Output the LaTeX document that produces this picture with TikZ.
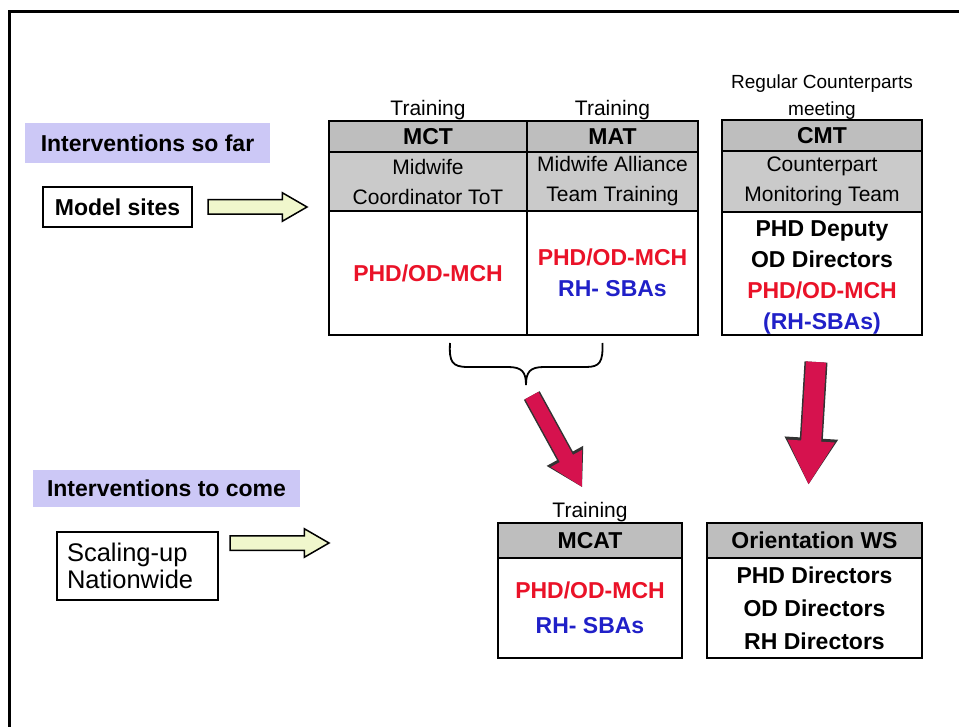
\documentclass[tikz,border=0pt]{standalone}
\usepackage{fontspec}
\setmainfont{Liberation Sans}
\usetikzlibrary{arrows.meta, positioning}
\usetikzlibrary{shapes.arrows}
\usetikzlibrary{calc}
\usepackage{xcolor}
\definecolor{hdrgray}{RGB}{190,190,190}
\definecolor{subgray}{RGB}{202,202,202}
\definecolor{lav}{RGB}{204,200,246}
\definecolor{pale}{RGB}{240,247,204}
\definecolor{crim}{RGB}{214,18,78}
\definecolor{txtred}{RGB}{234,18,40}
\definecolor{txtblue}{RGB}{32,32,200}

\begin{document}
\begin{tikzpicture}[x=1pt,y=-1pt,
    every node/.style={outer sep=0pt},
    cellbox/.style={draw, line width=2.5pt, align=center, inner sep=0pt},
    hdr/.style={cellbox, fill=hdrgray, font=\fontsize{23}{32}\selectfont\bfseries},
    subhdr/.style={cellbox, fill=subgray, font=\fontsize{21}{30}\selectfont},
    body/.style={cellbox, fill=white, font=\fontsize{23}{31}\selectfont\bfseries},
    toplbl/.style={inner sep=1pt, align=center, font=\fontsize{21}{27}\selectfont},
    tag/.style={fill=lav, inner sep=0pt, font=\fontsize{23}{28}\selectfont\bfseries},
    site/.style={draw, line width=1.5pt, inner sep=0pt},
    hollow/.style={single arrow, draw, line width=1.5pt, fill=pale,
        minimum height=99pt, inner xsep=0pt, inner ysep=6.5pt,
        single arrow head extend=7pt, single arrow tip angle=60},
    redarr/.style={draw=crim, line width=#1,
        -{Triangle[length=2.2*#1, width=2.2*#1]},
        preaction={draw=black!80, line width=#1+3pt,
        -{Triangle[length=2.2*#1+3pt, width=2.2*#1+6pt]}}}
    ]
    \useasboundingbox (0,0) rectangle (959,727);
    \draw[line width=3pt] (9,727) -- (9,12) -- (959,12);

    % left column
    \node[tag, minimum width=245, minimum height=40] (sofar) at (147.5,143) {Interventions so far};
    \node[site, minimum width=149, minimum height=40, font=\fontsize{23}{28}\selectfont\bfseries] (model) at (117.5,207) {Model sites};
    \node[hollow, right=16pt of model] (arr1) {};

    \node[tag, minimum width=267, minimum height=37] (tocome) at (166.5,488.5) {Interventions to come};
    \node[site, align=left, text width=141pt, inner xsep=10pt, minimum height=68,
        font=\fontsize{25.5}{27}\selectfont] (scale) at (137.5,566) {Scaling-up\\Nationwide};
    \node[hollow, anchor=west] (arr2) at ($(scale.east)+(12,-23)$) {};

    % so far
    \node[hdr, anchor=north west, minimum width=198, minimum height=31] (mcth) at (329,121) {MCT};
    \node[subhdr, below=0pt of mcth, minimum width=198, minimum height=59] (mcts) {Midwife\\Coordinator ToT};
    \node[body, below=0pt of mcts, minimum width=198, minimum height=124, text=txtred] (mctb) {PHD/OD-MCH};
    \node[hdr, right=0pt of mcth, minimum width=171, minimum height=31] (math) {MAT};
    \node[subhdr, below=0pt of math, minimum width=171, minimum height=59] (mats) {Midwife Alliance\\Team Training};
    \node[body, below=0pt of mats, minimum width=171, minimum height=124] (matb)
        {\textcolor{txtred}{PHD/OD-MCH}\\\textcolor{txtblue}{RH- SBAs}};
    \node[toplbl, above=0pt of mcth] (mctlbl) {Training};
    \node[toplbl, above=0pt of math] (matlbl) {Training};

    \node[hdr, anchor=north west, minimum width=200, minimum height=31] (cmth) at (722,120) {CMT};
    \node[subhdr, below=0pt of cmth, minimum width=200, minimum height=61] (cmts) {Counterpart\\Monitoring Team};
    \node[body, below=0pt of cmts, minimum width=200, minimum height=123] (cmtb)
        {\rule{0pt}{23pt}PHD Deputy\\OD Directors\\\textcolor{txtred}{PHD/OD-MCH}\\\textcolor{txtblue}{(RH-SBAs)}};
    \node[toplbl, above=0pt of cmth, font=\fontsize{19}{27}\selectfont] (cmtlbl) {Regular Counterparts\\meeting};

    % to come
    \node[hdr, anchor=north west, minimum width=184, minimum height=35] (mcath) at (498,523) {MCAT};
    \node[body, below=0pt of mcath, minimum width=184, minimum height=100, font=\fontsize{23}{35}\selectfont\bfseries] (mcatb)
        {\textcolor{txtred}{PHD/OD-MCH}\\\textcolor{txtblue}{RH- SBAs}};
    \node[toplbl, above=0pt of mcath] (mcatlbl) {Training};

    \node[hdr, anchor=north west, minimum width=215, minimum height=35] (owsh) at (707,523) {Orientation WS};
    \node[body, below=0pt of owsh, minimum width=215, minimum height=100, font=\fontsize{23}{33}\selectfont\bfseries] (owsb)
        {PHD Directors\\OD Directors\\RH Directors};

    % brace
    \coordinate (bl) at ($(mctb.south)+(22,8)$);
    \coordinate (br) at ($(matb.south)+(-10,8)$);
    \coordinate (bt) at (526,385);
    \draw[line width=1.8pt] (bl) .. controls (449,362) and (452,367) .. (468,367)
        -- (508,367) .. controls (522,367) and (526,372) .. (bt)
        .. controls (526,372) and (530,367) .. (544,367)
        -- (586,367) .. controls (600,367) and (603,362) .. (br);

    \draw[redarr=15pt] ($(bt)!12pt!(mcatlbl.north)$) -- ($(mcatlbl.north)!16pt!(bt)$);
    \draw[redarr=20pt] ($(cmtb.south)+(-6,27)$) -- ($(owsh.north)+(-6,-38)$);
\end{tikzpicture}
\end{document}
